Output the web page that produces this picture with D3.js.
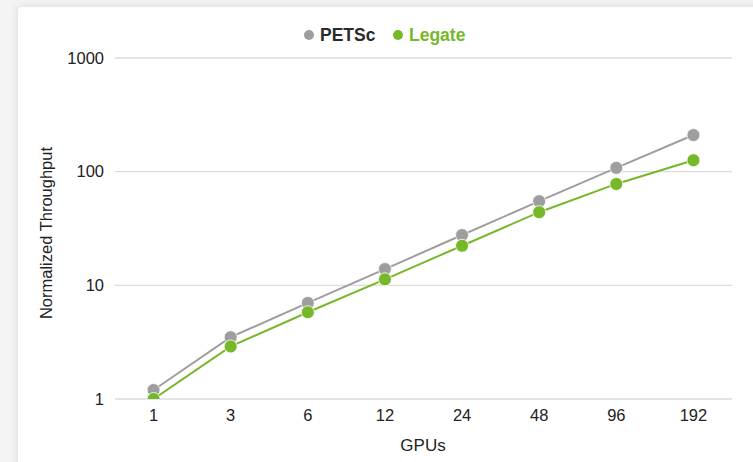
<!DOCTYPE html>
<html>
<head>
<meta charset="utf-8">
<script src="https://cdn.jsdelivr.net/npm/d3@7"></script>
<style>
  html, body { margin: 0; padding: 0; background: #f4f4f4; }
  svg { display: block; font-family: "Liberation Sans", Arial, sans-serif; }
</style>
</head>
<body>
<svg id="chart" width="753" height="462"></svg>
<script>
// GPU counts along the x axis
const gpus = ["1", "3", "6", "12", "24", "48", "96", "192"];
// Normalized throughput for each solver
const petsc  = [1.2, 3.5, 7.0, 13.9, 27.7, 55, 108, 210];
const legate = [1.0, 2.9, 5.8, 11.3, 22.3, 44, 78, 126];
const yTicks = [1, 10, 100, 1000];

const seriesNames = ["PETSc", "Legate"];
const seriesColors = ["#9e9e9e", "#76b82a"];

const W = 753, H = 462;
const margin = { left: 115, right: 21, top: 58, bottom: 63 };

const svg = d3.select("#chart");

// card with a soft shadow on the left and top
const defs = svg.append("defs");
const f = defs.append("filter").attr("id", "card-shadow")
  .attr("x", "-10%").attr("y", "-10%").attr("width", "120%").attr("height", "120%");
f.append("feDropShadow").attr("dx", 0).attr("dy", 0).attr("stdDeviation", 4)
  .attr("flood-color", "#000").attr("flood-opacity", 0.12);
svg.append("rect").attr("x", 18).attr("y", 7).attr("width", W).attr("height", H)
  .attr("rx", 4).attr("fill", "#fff").attr("filter", "url(#card-shadow)");

const x = d3.scaleBand().domain(gpus)
  .range([margin.left, W - margin.right]).padding(0);
const y = d3.scaleLog().domain([1, 1000])
  .range([H - margin.bottom, margin.top]);

// horizontal gridlines
svg.append("g").selectAll("line").data(yTicks).join("line")
  .attr("x1", margin.left).attr("x2", W - margin.right)
  .attr("y1", d => y(d)).attr("y2", d => y(d))
  .attr("stroke", "#dcdcdc").attr("stroke-width", 1.3);

// y axis labels
const yAxis = svg.append("g").attr("transform", `translate(${margin.left},0)`)
  .call(d3.axisLeft(y).tickValues(yTicks).tickFormat(d3.format("d")).tickSize(0).tickPadding(11));
yAxis.select(".domain").remove();
yAxis.selectAll("text").attr("font-size", 16.5).attr("fill", "#222")
  .attr("font-family", "Liberation Sans, Arial, sans-serif");

// x axis labels
const xAxis = svg.append("g").attr("transform", `translate(0,${H - margin.bottom})`)
  .call(d3.axisBottom(x).tickSize(0).tickPadding(10));
xAxis.select(".domain").remove();
xAxis.selectAll("text").attr("font-size", 16.5).attr("fill", "#222")
  .attr("font-family", "Liberation Sans, Arial, sans-serif");

// axis titles
svg.append("text").attr("x", 423).attr("y", 451).attr("text-anchor", "middle")
  .attr("font-size", 17).attr("fill", "#222").text("GPUs");
svg.append("text").attr("transform", "translate(52,233) rotate(-90)")
  .attr("text-anchor", "middle").attr("font-size", 16.5).attr("fill", "#222")
  .text("Normalized Throughput");

// plot clip so markers stay inside the value range
defs.append("clipPath").attr("id", "plot-clip").append("rect")
  .attr("x", margin.left - 10).attr("y", margin.top - 10)
  .attr("width", W - margin.left - margin.right + 20)
  .attr("height", H - margin.top - margin.bottom + 10);

const plot = svg.append("g").attr("clip-path", "url(#plot-clip)");
const cx = d => x(d) + x.bandwidth() / 2;
const line = d3.line().x((d, i) => cx(gpus[i])).y(d => y(d));

[petsc, legate].forEach((vals, s) => {
  const g = plot.append("g");
  g.append("path").datum(vals).attr("d", line)
    .attr("fill", "none").attr("stroke", seriesColors[s]).attr("stroke-width", 2);
  g.selectAll("circle").data(vals).join("circle")
    .attr("cx", (d, i) => cx(gpus[i])).attr("cy", d => y(d)).attr("r", 6.5)
    .attr("fill", seriesColors[s]).attr("stroke", "#fff").attr("stroke-width", 0.8);
});

// legend
const legend = svg.append("g");
const legendItems = [
  { dot: 309, text: 320, color: "#2a2a2a" },
  { dot: 398, text: 409, color: seriesColors[1] }
];
legendItems.forEach((it, i) => {
  legend.append("circle").attr("cx", it.dot).attr("cy", 35).attr("r", 5)
    .attr("fill", seriesColors[i]);
  legend.append("text").attr("x", it.text).attr("y", 40.5).attr("font-size", 17.5)
    .attr("font-weight", "bold").attr("fill", it.color).text(seriesNames[i]);
});
</script>
</body>
</html>
